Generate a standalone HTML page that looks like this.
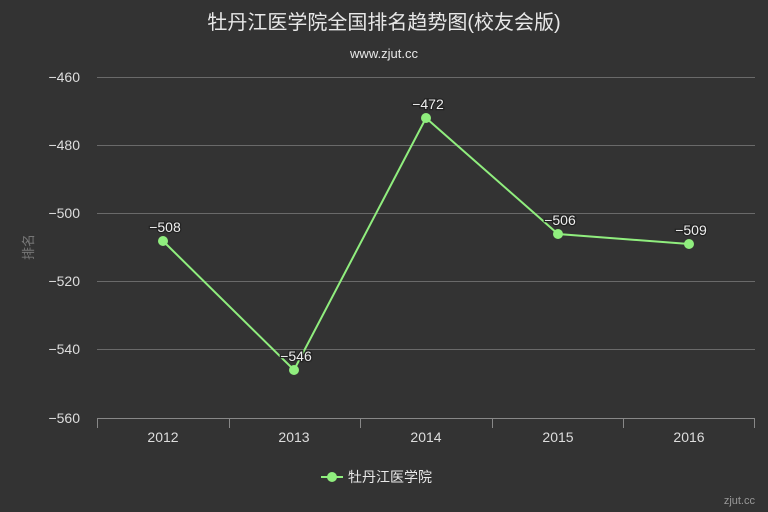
<!DOCTYPE html>
<html><head><meta charset="utf-8"><style>
html,body{margin:0;padding:0;background:#333333;}
svg{display:block;font-family:"Liberation Sans","Noto Sans CJK SC",sans-serif;}
</style></head><body>
<svg width="768" height="512" viewBox="0 0 768 512">
<rect width="768" height="512" fill="#333333"/>
<text x="384" y="29" text-anchor="middle" font-size="20" fill="#e8e8e8">牡丹江医学院全国排名趋势图(校友会版)</text>
<text x="384" y="58" text-anchor="middle" font-size="13" fill="#e8e8e8">www.zjut.cc</text>
<g stroke="#6a6a6a" stroke-width="1">
<line x1="97" y1="77.5" x2="755" y2="77.5"/>
<line x1="97" y1="145.5" x2="755" y2="145.5"/>
<line x1="97" y1="213.5" x2="755" y2="213.5"/>
<line x1="97" y1="281.5" x2="755" y2="281.5"/>
<line x1="97" y1="349.5" x2="755" y2="349.5"/>
</g>
<g stroke="#888" stroke-width="1">
<line x1="97" y1="418.5" x2="755" y2="418.5"/>
<line x1="97.5" y1="418" x2="97.5" y2="428"/>
<line x1="229.5" y1="418" x2="229.5" y2="428"/>
<line x1="360.5" y1="418" x2="360.5" y2="428"/>
<line x1="492.5" y1="418" x2="492.5" y2="428"/>
<line x1="623.5" y1="418" x2="623.5" y2="428"/>
<line x1="754.5" y1="418" x2="754.5" y2="428"/>
</g>
<g font-size="14" fill="#dddddd" text-anchor="end">
<text x="80" y="82">−460</text>
<text x="80" y="150">−480</text>
<text x="80" y="218">−500</text>
<text x="80" y="286">−520</text>
<text x="80" y="354">−540</text>
<text x="80" y="423">−560</text>
</g>
<g font-size="14" fill="#dddddd" text-anchor="middle">
<text x="163" y="442">2012</text>
<text x="294" y="442">2013</text>
<text x="426" y="442">2014</text>
<text x="558" y="442">2015</text>
<text x="689" y="442">2016</text>
</g>
<text x="33" y="247" font-size="13" fill="#777" text-anchor="middle" transform="rotate(-90 33 247)">排名</text>
<polyline points="163,241 294,370 426,118 558,234 689,244" fill="none" stroke="#90ee7e" stroke-width="2"/>
<g fill="#90ee7e">
<circle cx="163" cy="241" r="5"/><circle cx="294" cy="370" r="5"/><circle cx="426" cy="118" r="5"/><circle cx="558" cy="234" r="5"/><circle cx="689" cy="244" r="5"/>
</g>
<g font-size="14" fill="#eeeeee" text-anchor="middle" stroke="#222" stroke-width="2.5" paint-order="stroke">
<text x="165" y="232">−508</text>
<text x="296" y="361">−546</text>
<text x="428" y="109">−472</text>
<text x="560" y="225">−506</text>
<text x="691" y="235">−509</text>
</g>
<line x1="321" y1="477" x2="343" y2="477" stroke="#90ee7e" stroke-width="2"/>
<circle cx="332" cy="477" r="5" fill="#90ee7e"/>
<text x="348" y="482" font-size="14" fill="#e8e8e8">牡丹江医学院</text>
<text x="755" y="504" font-size="11" fill="#999" text-anchor="end">zjut.cc</text>
</svg>
</body></html>
